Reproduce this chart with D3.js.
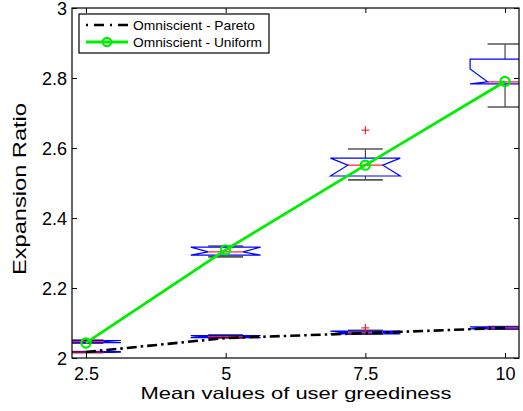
<!DOCTYPE html>
<html>
<head>
<meta charset="utf-8">
<script src="https://cdn.jsdelivr.net/npm/d3@7"></script>
<style>
  html, body { margin: 0; padding: 0; background: #fff; }
  svg { display: block; font-family: "Liberation Sans", Arial, Helvetica, sans-serif; }
</style>
</head>
<body>
<svg id="chart" width="523" height="411"></svg>
<script>
// ---- data ----
const categories = [2.5, 5, 7.5, 10];
const xTicks = [2.5, 5, 7.5, 10];
const yTicks = [2, 2.2, 2.4, 2.6, 2.8, 3];
const seriesNames = ["Omniscient - Pareto", "Omniscient - Uniform"];

const paretoMean  = [2.017, 2.057, 2.071, 2.086];
const uniformMean = [2.043, 2.309, 2.551, 2.790];

// box statistics: [lowWhisker, q1, median, q3, highWhisker]
const uniformLow   = [2.042, 2.289, 2.509, 2.717];
const uniformQ1    = [2.044, 2.294, 2.520, 2.783];
const uniformMed   = [2.047, 2.303, 2.551, 2.789];
const uniformQ3    = [2.050, 2.317, 2.571, 2.854];
const uniformHigh  = [2.051, 2.320, 2.597, 2.897];
const uniformNotchLo = [2.040, 2.280, 2.510, 2.770];
const uniformNotchHi = [2.055, 2.330, 2.590, 2.826];
const uniformOutliers = [[], [], [2.651], []];

const paretoLow   = [2.0155, 2.057, 2.068, 2.082];
const paretoQ1    = [2.016, 2.058, 2.069, 2.083];
const paretoMed   = [2.017, 2.061, 2.073, 2.086];
const paretoQ3    = [2.018, 2.064, 2.077, 2.089];
const paretoHigh  = [2.0185, 2.066, 2.079, 2.090];
const paretoNotchLo = [2.010, 2.050, 2.060, 2.075];
const paretoNotchHi = [2.025, 2.070, 2.085, 2.095];
const paretoOutliers = [[], [], [2.086], []];

// ---- layout ----
const svg = d3.select("#chart");
const L = 72, R = 519, T = 8, B = 358;
const x = d3.scaleLinear().domain([2.25, 10.25]).range([L, R]);
const y = d3.scaleLinear().domain([2, 3]).range([B, T]);
const boxHalf = 0.625;   // data units
const FONT = "\"Liberation Sans\", Arial, Helvetica, sans-serif";

svg.append("defs").append("clipPath").attr("id", "plotclip")
  .append("rect").attr("x", L).attr("y", T).attr("width", R - L).attr("height", B - T);

const plot = svg.append("g").attr("clip-path", "url(#plotclip)");

function buildBoxes(low, q1, med, q3, high, nlo, nhi, outs) {
  return categories.map((c, i) => ({
    c, low: low[i], q1: q1[i], med: med[i], q3: q3[i], high: high[i],
    nlo: Math.max(nlo[i], q1[i]), nhi: Math.min(nhi[i], q3[i]), outs: outs[i]
  }));
}

function drawBoxes(data) {
  const g = plot.append("g");
  data.forEach(d => {
    const xl = x(d.c - boxHalf), xr = x(d.c + boxHalf);
    const xil = x(d.c - boxHalf / 2), xir = x(d.c + boxHalf / 2);
    const xm = x(d.c);
    // whiskers
    g.append("line").attr("x1", xm).attr("x2", xm).attr("y1", y(d.q3)).attr("y2", y(d.high))
      .attr("stroke", "#222").attr("stroke-width", 1);
    g.append("line").attr("x1", xm).attr("x2", xm).attr("y1", y(d.q1)).attr("y2", y(d.low))
      .attr("stroke", "#222").attr("stroke-width", 1);
    // caps
    [d.low, d.high].forEach(v => {
      g.append("line").attr("x1", xil).attr("x2", xir).attr("y1", y(v)).attr("y2", y(v))
        .attr("stroke", "#555").attr("stroke-width", 1.6);
    });
    // notched box
    const pts = [
      [xl, y(d.q1)], [xl, y(d.nlo)], [xil, y(d.med)], [xl, y(d.nhi)], [xl, y(d.q3)],
      [xr, y(d.q3)], [xr, y(d.nhi)], [xir, y(d.med)], [xr, y(d.nlo)], [xr, y(d.q1)]
    ];
    g.append("path").attr("d", d3.line()(pts) + "Z")
      .attr("fill", "none").attr("stroke", "#0000ff").attr("stroke-width", 1.2);
    // median
    g.append("line").attr("x1", xil).attr("x2", xir).attr("y1", y(d.med)).attr("y2", y(d.med))
      .attr("stroke", "#ff0000").attr("stroke-width", 1.2).attr("opacity", 0.85);
    // outliers
    d.outs.forEach(o => {
      const px = xm, py = y(o);
      g.append("path").attr("d", `M${px - 4},${py}H${px + 4}M${px},${py - 4}V${py + 4}`)
        .attr("stroke", "#ff0000").attr("stroke-width", 1);
    });
  });
}

drawBoxes(buildBoxes(paretoLow, paretoQ1, paretoMed, paretoQ3, paretoHigh, paretoNotchLo, paretoNotchHi, paretoOutliers));
drawBoxes(buildBoxes(uniformLow, uniformQ1, uniformMed, uniformQ3, uniformHigh, uniformNotchLo, uniformNotchHi, uniformOutliers));

// ---- lines ----
const lineGen = d3.line().x(d => x(d[0])).y(d => y(d[1]));
const paretoPts = categories.map((c, i) => [c, paretoMean[i]]);
const uniformPts = categories.map((c, i) => [c, uniformMean[i]]);

const GREEN = "#00ee00";
plot.append("path").attr("d", lineGen(paretoPts))
  .attr("fill", "none").attr("stroke", "#000").attr("stroke-width", 2.6)
  .attr("stroke-dasharray", "10,4,2.5,4");
plot.append("path").attr("d", lineGen(uniformPts))
  .attr("fill", "none").attr("stroke", GREEN).attr("stroke-width", 2.8);
plot.selectAll(".mk").data(uniformPts).enter().append("circle")
  .attr("cx", d => x(d[0])).attr("cy", d => y(d[1])).attr("r", 4.6)
  .attr("fill", "none").attr("stroke", GREEN).attr("stroke-width", 2.2);

// ---- axes ----
const fmt = d3.format("~g");
const axB = svg.append("g").attr("transform", `translate(0,${B})`)
  .call(d3.axisBottom(x).tickValues(xTicks).tickSizeInner(-5).tickSizeOuter(0).tickPadding(9).tickFormat(fmt));
const axT = svg.append("g").attr("transform", `translate(0,${T})`)
  .call(d3.axisTop(x).tickValues(xTicks).tickSizeInner(-5).tickSizeOuter(0).tickFormat(""));
const axL = svg.append("g").attr("transform", `translate(${L},0)`)
  .call(d3.axisLeft(y).tickValues(yTicks).tickSizeInner(-5).tickSizeOuter(0).tickPadding(5).tickFormat(fmt));
const axR = svg.append("g").attr("transform", `translate(${R},0)`)
  .call(d3.axisRight(y).tickValues(yTicks).tickSizeInner(-5).tickSizeOuter(0).tickFormat(""));
[axB, axT, axL, axR].forEach(a => {
  a.select(".domain").remove();
  a.selectAll(".tick line").attr("stroke", "#000");
  a.selectAll(".tick text").attr("font-size", 18).attr("font-family", FONT).attr("fill", "#000");
});
axL.selectAll(".tick text").attr("dy", "0.36em");

svg.append("rect").attr("x", L).attr("y", T).attr("width", R - L).attr("height", B - T)
  .attr("fill", "none").attr("stroke", "#000").attr("stroke-width", 1.2);

// ---- axis labels ----
svg.append("text").attr("x", 296).attr("y", 398.5).attr("text-anchor", "middle")
  .attr("font-size", 16.5).attr("font-family", FONT)
  .attr("textLength", 311).attr("lengthAdjust", "spacingAndGlyphs")
  .text("Mean values of user greediness");
svg.append("text").attr("transform", "translate(26,189) rotate(-90)").attr("text-anchor", "middle")
  .attr("font-size", 18).attr("font-family", FONT)
  .attr("textLength", 172).attr("lengthAdjust", "spacingAndGlyphs")
  .text("Expansion Ratio");

// ---- legend ----
const lg = svg.append("g");
lg.append("rect").attr("x", 79).attr("y", 14).attr("width", 190).attr("height", 39)
  .attr("fill", "#fff").attr("stroke", "#000").attr("stroke-width", 1.2);
const rows = [25, 42];
lg.append("line").attr("x1", 86).attr("x2", 128).attr("y1", rows[0]).attr("y2", rows[0])
  .attr("stroke", "#000").attr("stroke-width", 2.4).attr("stroke-dasharray", "2,6,10,6,2,6,10");
lg.append("line").attr("x1", 86).attr("x2", 128).attr("y1", rows[1]).attr("y2", rows[1])
  .attr("stroke", GREEN).attr("stroke-width", 2.8);
lg.append("circle").attr("cx", 107).attr("cy", rows[1]).attr("r", 4.2)
  .attr("fill", "none").attr("stroke", GREEN).attr("stroke-width", 2.2);
const legLens = [122, 129];
seriesNames.forEach((s, i) => {
  lg.append("text").attr("x", 133).attr("y", rows[i]).attr("dy", "0.36em")
    .attr("font-size", 13.5).attr("font-family", FONT)
    .attr("textLength", legLens[i]).attr("lengthAdjust", "spacingAndGlyphs")
    .text(s);
});
</script>
</body>
</html>
